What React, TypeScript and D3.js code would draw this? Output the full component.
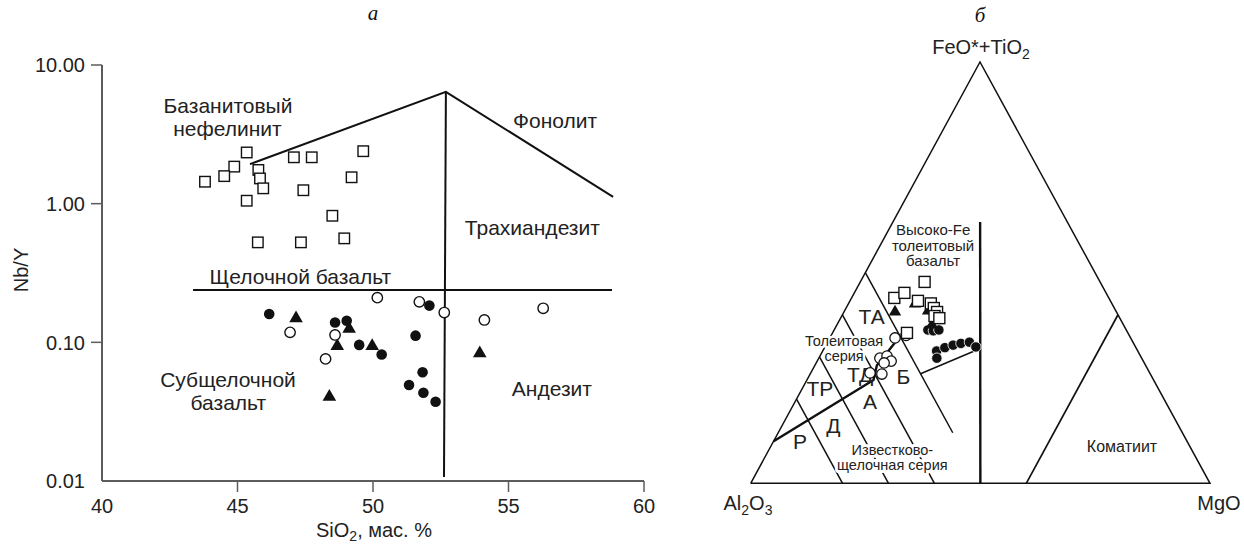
import React from "react";
import * as d3 from "d3";

// ---------- Panel а : Nb/Y vs SiO2 ----------
const siO2Ticks = [40, 45, 50, 55, 60];
const siO2TickLabels = ["40", "45", "50", "55", "60"];
const nbYTicks = [0.01, 0.1, 1, 10];
const nbYTickLabels = ["0.01", "0.10", "1.00", "10.00"];

// field boundaries [SiO2, Nb/Y]
const upperBoundary: [number, number][] = [[45.46, 1.93], [52.69, 6.41], [58.86, 1.12]];
const verticalBoundary: [number, number][] = [[52.69, 6.41], [52.62, 0.0107]];
const alkaliBoundary: [number, number][] = [[43.36, 0.238], [58.82, 0.238]];

// samples
const sqSiO2 = [45.34, 44.88, 44.51, 43.8, 45.77, 45.83, 45.95, 45.34, 47.08, 47.74, 47.43, 45.75, 47.34, 49.64, 49.21, 48.5, 48.94];
const sqNbY = [2.34, 1.85, 1.58, 1.44, 1.75, 1.52, 1.29, 1.05, 2.16, 2.16, 1.25, 0.526, 0.526, 2.39, 1.55, 0.818, 0.562];
const fcSiO2 = [46.17, 52.08, 48.6, 49.03, 49.49, 50.32, 51.57, 51.83, 51.33, 51.86, 52.31];
const fcNbY = [0.16, 0.184, 0.139, 0.143, 0.0958, 0.0818, 0.1117, 0.0608, 0.0492, 0.0433, 0.0373];
const ocSiO2 = [46.94, 50.16, 51.71, 52.63, 54.11, 56.28, 48.6, 48.25];
const ocNbY = [0.118, 0.21, 0.196, 0.164, 0.145, 0.176, 0.113, 0.0759];
const trSiO2 = [47.16, 49.12, 48.68, 49.97, 53.94, 48.39];
const trNbY = [0.149, 0.125, 0.0939, 0.0939, 0.0833, 0.0405];

// field labels [text, SiO2, Nb/Y]
const leftLabels: [string, number, number][] = [
  ["Базанитовый", 44.65, 5.14],
  ["нефелинит", 44.63, 3.51],
  ["Фонолит", 56.72, 3.96],
  ["Трахиандезит", 55.88, 0.678],
  ["Щелочной базальт", 47.32, 0.3006],
  ["Субщелочной", 44.65, 0.0543],
  ["базальт", 44.66, 0.0367],
  ["Андезит", 56.6, 0.0468],
];

// ---------- Panel б : Al2O3 – FeO*+TiO2 – MgO ----------
type T = [number, number, number]; // [Al, Fe, Mg] %
const hfeBoundary: T[] = [[50, 0, 50], [19, 62, 19]];
const komatiiteBoundary: T[] = [[40, 0, 60], [0, 40, 60]];
const rdBoundary: T[] = [[80, 20, 0], [80, 0, 20]];
const daBoundary: T[] = [[70, 30, 0], [70, 0, 30]];
const abBoundary: T[] = [[60, 40, 0], [60, 0, 40]];
const taBoundary: T[] = [[50, 50, 0], [50, 12, 38]];
const thCaBoundary: T[] = [[90, 10, 0], [61, 24.5, 14.5], [58.5, 28, 13.5], [50.5, 34.5, 15]];
const hftHmtBoundary: T[] = [[50, 26, 24], [34, 32, 34]];

const tSqAl = [38.2, 46.7, 43.9, 41.9, 39.4, 39.3, 39.1, 40.1, 39.3, 48.1];
const tSqFe = [47.8, 44.0, 45.2, 43.3, 42.7, 41.6, 40.7, 39.7, 39.2, 35.7];
const tSqMg = [14.0, 9.3, 10.9, 14.8, 17.9, 19.1, 20.3, 20.2, 21.5, 16.2];
const tTrAl = [48.2, 42.9, 40.9, 41.7];
const tTrFe = [40.7, 42.6, 40.9, 37.6];
const tTrMg = [11.1, 14.5, 18.2, 20.7];
const tFcAl = [43.2, 42.1, 40.8, 43.8, 44.6, 41.6, 39.5, 37.6, 35.6, 34.8];
const tFcFe = [36.4, 36.2, 36.4, 31.4, 29.7, 32.2, 32.8, 33.2, 33.5, 32.4];
const tFcMg = [20.4, 21.7, 22.8, 24.8, 25.7, 26.2, 27.7, 29.2, 30.9, 32.9];
const tOcAl = [51.3, 48.6, 57.0, 55.2, 54.9, 56.7, 60.9, 58.4];
const tOcFe = [34.5, 35.1, 29.7, 30.2, 29.0, 28.6, 26.2, 25.9];
const tOcMg = [14.2, 16.3, 13.3, 14.6, 16.1, 14.8, 12.9, 15.6];

// field labels [text, Al, Fe, Mg, size]
const rightLabels: [string, number, number, number, number][] = [
  ["ТА", 53.9, 39.5, 6.6, 21],
  ["ТД", 63.2, 25.9, 10.9, 21],
  ["Б", 54.1, 25.3, 20.6, 21],
  ["ТР", 73.6, 22.6, 3.8, 21],
  ["А", 64.3, 19.4, 16.3, 21],
  ["Д", 75.1, 13.8, 11.1, 21],
  ["Р", 84.3, 9.9, 5.8, 21],
  ["Коматиит", 14.7, 8.9, 76.4, 16],
];

const SANS = "'Liberation Sans', Arial, Helvetica, sans-serif";
const SERIF = "'Liberation Serif', 'Times New Roman', serif";

export default function App() {
  const x = d3.scaleLinear().domain([40, 60]).range([102, 644]);
  const y = d3.scaleLog().domain([0.01, 10]).range([481, 65]);
  const line = d3.line<[number, number]>().x((d) => x(d[0])).y((d) => y(d[1]));

  // ternary projection
  const cAl = [750.7, 483.3], cFe = [980, 62], cMg = [1210, 483.3];
  const proj = (t: T): [number, number] => {
    const s = t[0] + t[1] + t[2];
    const a = t[0] / s, f = t[1] / s, m = t[2] / s;
    return [a * cAl[0] + f * cFe[0] + m * cMg[0], a * cAl[1] + f * cFe[1] + m * cMg[1]];
  };
  const tline = d3.line<T>().x((d) => proj(d)[0]).y((d) => proj(d)[1]);
  const frame: T[] = [[100, 0, 0], [0, 100, 0], [0, 0, 100], [100, 0, 0]];

  const tri = d3.symbol().type(d3.symbolTriangle).size(80)()!;
  const triS = d3.symbol().type(d3.symbolTriangle).size(66)()!;
  const ink = "#111";
  const axisCol = "#5c5c5c";

  const sq = (cx: number, cy: number, s: number, k: string) => (
    <rect key={k} x={cx - s / 2} y={cy - s / 2} width={s} height={s} fill="#fff" stroke={ink} strokeWidth={1.4} />
  );

  return (
    <svg width={1244} height={545} style={{ position: "absolute", left: 0, top: 0, background: "#fff" }} fontFamily={SANS}>
      <rect width={1244} height={545} fill="#fff" />
      {/* ---------- Panel а ---------- */}
      <text x={373} y={20} fontFamily={SERIF} fontStyle="italic" fontSize={21} textAnchor="middle" fill={ink}>а</text>
      <line x1={x(40)} x2={x(60)} y1={y(0.01)} y2={y(0.01)} stroke={axisCol} strokeWidth={2} />
      <line x1={x(40)} x2={x(40)} y1={y(0.01)} y2={y(10)} stroke={axisCol} strokeWidth={2} />
      {nbYTicks.map((t, i) => (
        <g key={"yt" + i}>
          {i > 0 && <line x1={x(40) - 11} x2={x(40)} y1={y(t)} y2={y(t)} stroke={axisCol} strokeWidth={1.5} />}
          <text x={85} y={y(t)} dy="0.36em" textAnchor="end" fontSize={20} fill="#222">{nbYTickLabels[i]}</text>
        </g>
      ))}
      {siO2Ticks.map((t, i) => (
        <g key={"xt" + i}>
          {i > 0 && <line x1={x(t)} x2={x(t)} y1={y(0.01)} y2={y(0.01) + 11} stroke={axisCol} strokeWidth={1.5} />}
          <text x={x(t)} y={513} textAnchor="middle" fontSize={20} fill="#222">{siO2TickLabels[i]}</text>
        </g>
      ))}
      <text transform="translate(28,270) rotate(-90)" textAnchor="middle" fontSize={20} fill="#222">Nb/Y</text>
      <text x={374} y={537} textAnchor="middle" fontSize={20} fill="#222">
        SiO<tspan fontSize={14} dy={4}>2</tspan><tspan dy={-4}>, мас. %</tspan>
      </text>
      <path d={line(upperBoundary)!} fill="none" stroke={ink} strokeWidth={2} />
      <path d={line(verticalBoundary)!} fill="none" stroke={ink} strokeWidth={2} />
      <path d={line(alkaliBoundary)!} fill="none" stroke={ink} strokeWidth={2} />
      {leftLabels.map(([s, a, b], i) => (
        <text key={"ll" + i} x={x(a)} y={y(b)} dy="0.36em" textAnchor="middle" fontSize={21} fill="#222">{s}</text>
      ))}
      {fcSiO2.map((v, i) => <circle key={"fc" + i} cx={x(v)} cy={y(fcNbY[i])} r={5.3} fill={ink} />)}
      {trSiO2.map((v, i) => <path key={"tr" + i} d={tri} transform={`translate(${x(v)},${y(trNbY[i])})`} fill={ink} />)}
      {ocSiO2.map((v, i) => <circle key={"oc" + i} cx={x(v)} cy={y(ocNbY[i])} r={5.2} fill="#fff" stroke={ink} strokeWidth={1.4} />)}
      {sqSiO2.map((v, i) => sq(x(v), y(sqNbY[i]), 10.5, "sq" + i))}

      {/* ---------- Panel б ---------- */}
      <text x={980} y={22} fontFamily={SERIF} fontStyle="italic" fontSize={21} textAnchor="middle" fill={ink}>б</text>
      <text x={981} y={54} textAnchor="middle" fontSize={20} fill="#222">
        FeO*+TiO<tspan fontSize={14} dy={5}>2</tspan>
      </text>
      <text x={748} y={510} textAnchor="middle" fontSize={20} fill="#222">
        Al<tspan fontSize={14} dy={5}>2</tspan><tspan dy={-5}>O</tspan><tspan fontSize={14} dy={5}>3</tspan>
      </text>
      <text x={1219} y={510} textAnchor="middle" fontSize={20} fill="#222">MgO</text>
      <path d={tline(frame)!} fill="none" stroke={ink} strokeWidth={1.5} strokeLinejoin="miter" />
      <path d={tline(komatiiteBoundary)!} fill="none" stroke={ink} strokeWidth={1.7} />
      <path d={tline(hfeBoundary)!} fill="none" stroke={ink} strokeWidth={2.4} />
      <path d={tline(rdBoundary)!} fill="none" stroke={ink} strokeWidth={1.5} />
      <path d={tline(daBoundary)!} fill="none" stroke={ink} strokeWidth={1.5} />
      <path d={tline(abBoundary)!} fill="none" stroke={ink} strokeWidth={1.5} />
      <path d={tline(taBoundary)!} fill="none" stroke={ink} strokeWidth={1.5} />
      <path d={tline(hftHmtBoundary)!} fill="none" stroke={ink} strokeWidth={1.5} />
      <path d={tline(thCaBoundary)!} fill="none" stroke={ink} strokeWidth={2.4} />
      {rightLabels.map(([s, a, f, m, fs], i) => {
        const p = proj([a, f, m]);
        return <text key={"rl" + i} x={p[0]} y={p[1]} dy="0.36em" textAnchor="middle" fontSize={fs} fill="#222">{s}</text>;
      })}
      {(() => {
        const p = proj([32.1, 56.3, 11.6]);
        return (
          <text x={p[0]} y={p[1]} textAnchor="middle" fontSize={15} fill="#222">
            <tspan x={p[0]} dy={-11}>Высоко-Fe</tspan>
            <tspan x={p[0]} dy={15.5}>толеитовый</tspan>
            <tspan x={p[0]} dy={15.5}>базальт</tspan>
          </text>
        );
      })()}
      {(() => {
        const p = proj([63.7, 31.9, 4.4]);
        return (
          <text x={p[0]} y={p[1]} textAnchor="middle" fontSize={14.5} fill="#222" stroke="#fff" strokeWidth={5} paintOrder="stroke" strokeLinejoin="round">
            <tspan x={p[0]} dy={-2.5}>Толеитовая</tspan>
            <tspan x={p[0]} dy={15}>серия</tspan>
          </text>
        );
      })()}
      {(() => {
        const p = proj([66.0, 6.3, 27.7]);
        return (
          <text x={p[0]} y={p[1]} textAnchor="middle" fontSize={14.5} fill="#222" stroke="#fff" strokeWidth={6} paintOrder="stroke" strokeLinejoin="round">
            <tspan x={p[0]} dy={-1.5}>Известково-</tspan>
            <tspan x={p[0]} dy={15}>щелочная серия</tspan>
          </text>
        );
      })()}
      {tFcAl.map((v, i) => {
        const p = proj([v, tFcFe[i], tFcMg[i]]);
        return <circle key={"tfc" + i} cx={p[0]} cy={p[1]} r={5.2} fill={ink} stroke="#fff" strokeWidth={0.8} />;
      })}
      {tTrAl.map((v, i) => {
        const p = proj([v, tTrFe[i], tTrMg[i]]);
        return <path key={"ttr" + i} d={triS} transform={`translate(${p[0]},${p[1]})`} fill={ink} />;
      })}
      {tOcAl.map((v, i) => {
        const p = proj([v, tOcFe[i], tOcMg[i]]);
        return <circle key={"toc" + i} cx={p[0]} cy={p[1]} r={5.2} fill="#fff" stroke={ink} strokeWidth={1.3} />;
      })}
      {tSqAl.map((v, i) => {
        const p = proj([v, tSqFe[i], tSqMg[i]]);
        return sq(p[0], p[1], 11, "tsq" + i);
      })}
    </svg>
  );
}
